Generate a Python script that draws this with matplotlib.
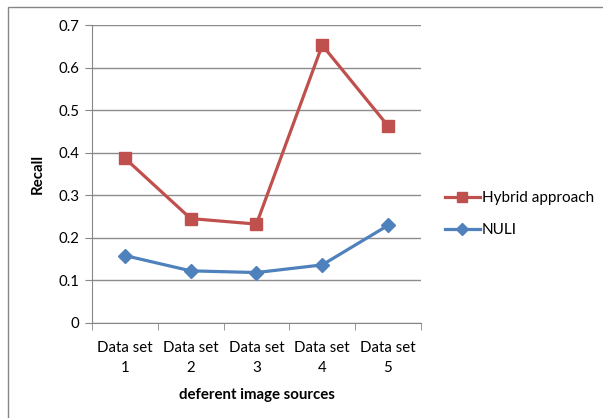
import numpy as np
import matplotlib.pyplot as plt
from matplotlib.patches import Rectangle

categories = ["Data set\n1", "Data set\n2", "Data set\n3", "Data set\n4", "Data set\n5"]
hybrid = [0.387, 0.245, 0.232, 0.653, 0.463]
nuli = [0.158, 0.122, 0.118, 0.136, 0.229]
yticks = [0, 0.1, 0.2, 0.3, 0.4, 0.5, 0.6, 0.7]

plt.rcParams['font.family'] = ['Lato', 'DejaVu Sans']

fig = plt.figure(figsize=(6.03, 4.18), dpi=100)
ax = fig.add_axes([0.1526, 0.228, 0.5454, 0.7117])

# outer chart border
fig.patches.append(Rectangle((8 / 603, -0.01), 1.0, 1 - 7 / 418 + 0.01,
                             transform=fig.transFigure, fill=False,
                             edgecolor='#868686', linewidth=1.0))

x = np.arange(len(categories))
ax.plot(x, hybrid, color='#C0504D', linewidth=2.3, marker='s', markersize=8,
        label='Hybrid approach')
ax.plot(x, nuli, color='#4F81BD', linewidth=2.3, marker='D', markersize=7,
        label='NULI')

ax.set_xlim(-0.5, len(categories) - 0.5)
ax.set_ylim(0, 0.7)
ax.set_yticks(yticks)
ax.set_yticklabels([f"{v:g}" for v in yticks])
ax.grid(axis='y', color='#8c8c8c', linewidth=1.0)
ax.set_axisbelow(True)

# category labels centred, tick marks between categories
ax.set_xticks(x)
ax.set_xticklabels(categories, fontsize=10.8, linespacing=1.6)
ax.set_xticks(np.arange(-0.5, len(categories)), minor=True)
ax.tick_params(axis='x', which='major', length=0, pad=13)
ax.tick_params(axis='x', which='minor', length=5, color='#868686')
ax.tick_params(axis='y', length=5, color='#868686', labelsize=10.8, pad=4)

for s in ['top', 'right']:
    ax.spines[s].set_visible(False)
for s in ['left', 'bottom']:
    ax.spines[s].set_color('#868686')

ax.set_ylabel('Recall', fontsize=10.8, fontweight='bold', labelpad=10)
ax.set_xlabel('deferent image sources', fontsize=10.8, fontweight='bold', labelpad=9)

ax.legend(loc='center left', bbox_to_anchor=(1.03, 0.365), frameon=False,
          fontsize=11, handlelength=2.3, handletextpad=0.15, labelspacing=1.2,
          markerscale=0.85)

fig.savefig('out.png', dpi=100)
